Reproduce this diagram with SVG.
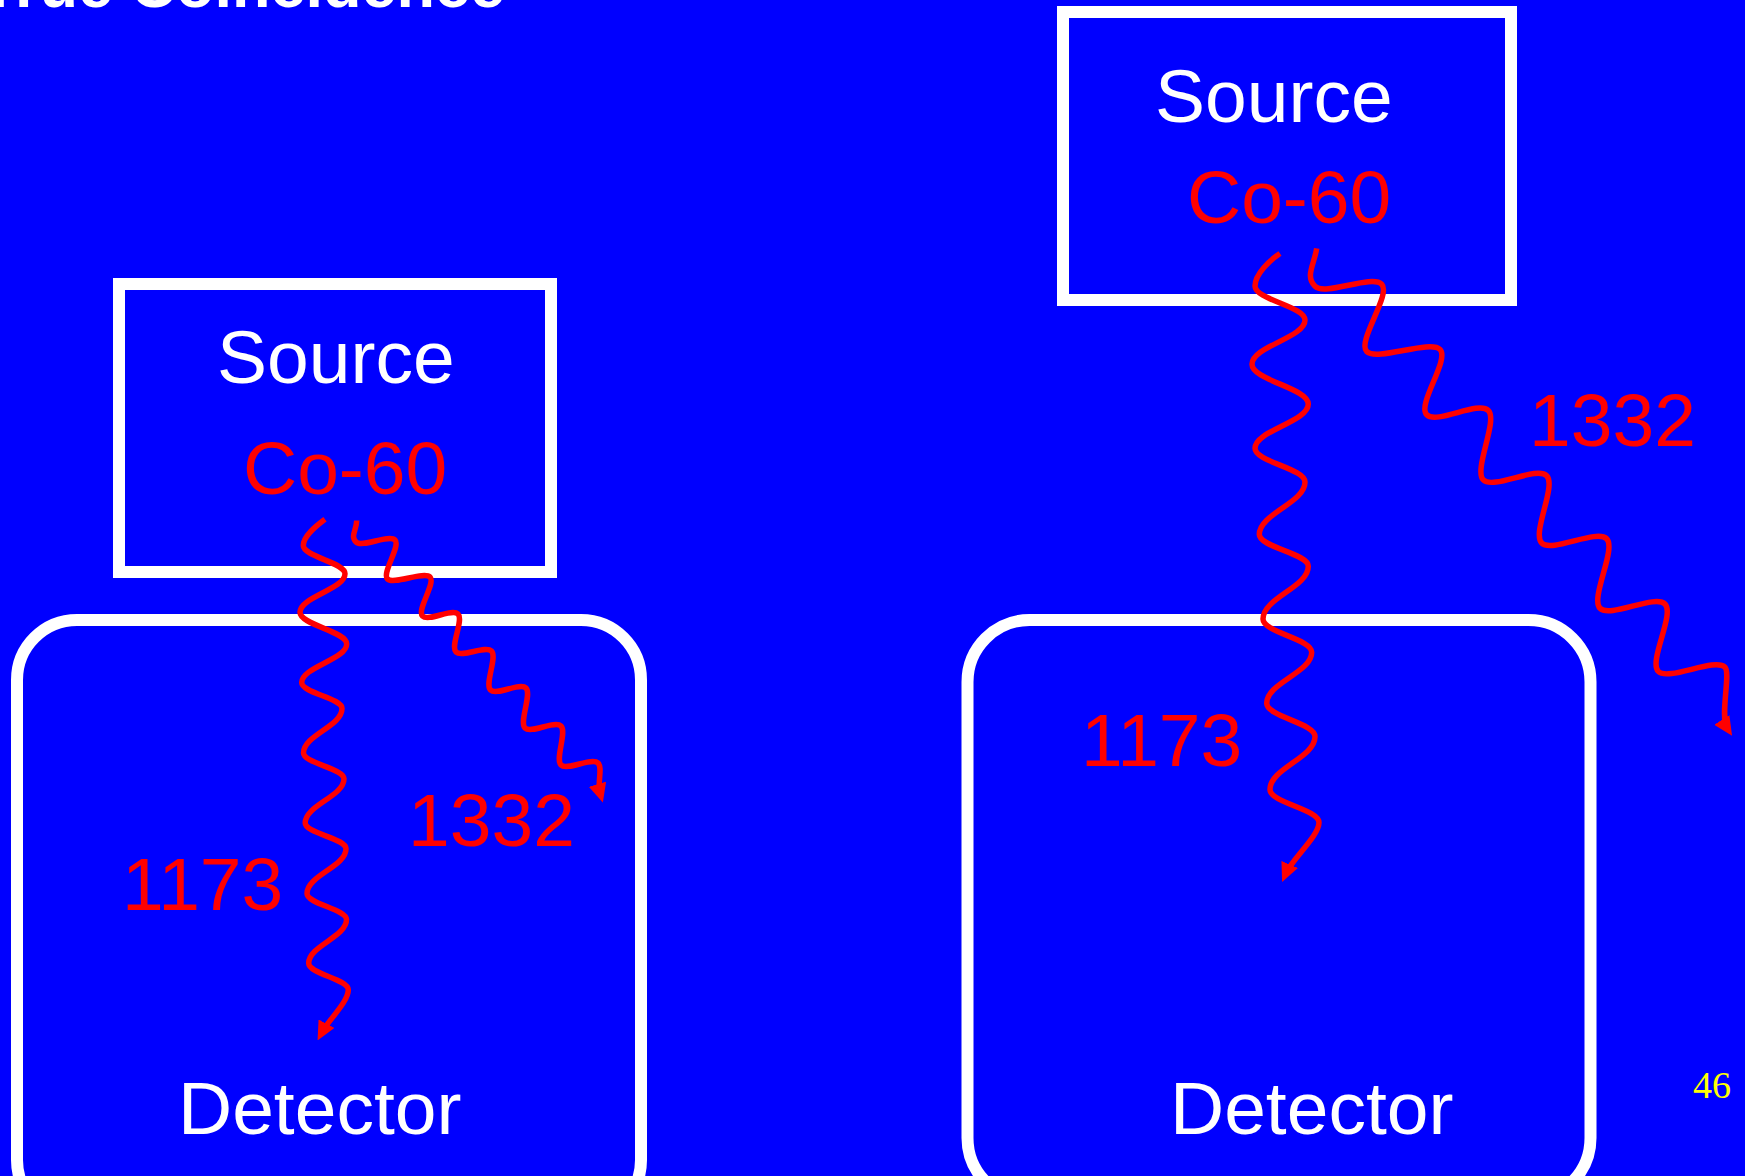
<svg xmlns="http://www.w3.org/2000/svg" width="1745" height="1176" viewBox="0 0 1745 1176">
<style>
.box{fill:none;stroke:#fff;stroke-width:12}
.lbl{font-family:"Liberation Sans",Arial,sans-serif;font-size:75px}
.w{fill:#fff}
.r{fill:#f00}
.wave{fill:none;stroke:#f00;stroke-width:5.5;stroke-linecap:butt;stroke-linejoin:round}
</style>
<defs>
<marker id="ah" viewBox="0 0 19 18" refX="10" refY="9" markerWidth="19" markerHeight="18" markerUnits="userSpaceOnUse" orient="auto">
<path d="M0,0 L19,9 L0,18 z" fill="#f00"/>
</marker>
</defs>
<rect x="0" y="0" width="1745" height="1176" fill="#0000ff"/>
<text x="-20" y="7" font-family="'Liberation Sans',Arial,sans-serif" font-size="63" font-weight="bold" fill="#fff">True Coincidence</text>

<g id="left-source">
<rect class="box" x="119" y="284" width="432" height="288"/>
<text class="lbl w" x="217" y="383">Source</text>
<text class="lbl r" x="243" y="494">Co-60</text>
</g>
<g id="left-detector">
<rect class="box" x="17" y="620" width="624" height="600" rx="60" ry="60"/>
<text class="lbl w" x="178" y="1134">Detector</text>
</g>
<g id="right-source">
<rect class="box" x="1063" y="12" width="448" height="288"/>
<text class="lbl w" x="1155" y="122">Source</text>
<text class="lbl r" x="1187" y="223">Co-60</text>
</g>
<g id="right-detector">
<rect class="box" x="967.5" y="620" width="623" height="580" rx="62" ry="62"/>
<text class="lbl w" x="1170" y="1134">Detector</text>
</g>

<g id="connectors">
<path class="wave" marker-end="url(#ah)" d="M325,519.3 C316,526 303.3,536 303.3,545.6 C303.3,556.8 345,562.5 345,573.7 C345,589.1 300,596.9 300,612.3 C300,624.9 346.7,631.3 346.7,643.9 C346.7,659.3 301.7,667.1 301.7,682.5 C301.7,692.9 342,698.1 342,708.5 C342,726.3 303.5,735.2 303.5,753 C303.5,763.3 344,768.4 344,778.7 C344,796.4 305.2,805.3 305.2,823 C305.2,833.3 346,838.4 346,848.7 C346,866.6 307,875.6 307,893.5 C307,903.9 346.5,909.2 346.5,919.6 C346.5,937 308.7,945.8 308.7,963.2 C308.7,973.8 348.3,979.1 348.3,989.7 C348.3,1002 328.4,1020.2 321.8,1032.5"/>
<path class="wave" marker-end="url(#ah)" d="M356.7,520.4 C356.7,530 350,536 356,542 C362,548 389,534 395,540 C401,546 381.5,573 387.5,579 C393.5,585 424,571 430,577 C436,583 416.5,610 422.5,616 C428.5,622 452,608 458,614 C464,620 450,646 456,652 C462,658 485.5,645 491.5,651 C497.5,657 484.5,684 490.5,690 C496.5,696 520,682 526,688 C532,694 519,722 525,728 C531,734 555,720 561,726 C567,732 555,759 561,765 C567,771 592,757 598,763 C603,768 596.9,782.3 600.3,793.8"/>
<path class="wave" marker-end="url(#ah)" d="M1280,253.5 C1270,260 1255,274 1255,286 C1255,299.6 1305,306.4 1305,320 C1305,337.7 1252,346.5 1252,364.2 C1252,380.2 1308.3,388.1 1308.3,404.1 C1308.3,421.8 1255,430.6 1255,448.3 C1255,461.8 1305,468.5 1305,482 C1305,503 1259.3,513.6 1259.3,534.6 C1259.3,547.2 1308.3,553.6 1308.3,566.2 C1308.3,587.3 1263,597.9 1263,619 C1263,632.3 1311.7,638.9 1311.7,652.2 C1311.7,672.6 1266.7,682.8 1266.7,703.2 C1266.7,716.6 1315,723.2 1315,736.6 C1315,757.8 1270,768.3 1270,789.5 C1270,802.7 1319,809.3 1319,822.5 C1319,836 1292.1,859 1285.7,873.7"/>
<path class="wave" marker-end="url(#ah)" d="M1316.7,248.4 C1314,265 1305,276.3 1315,286.3 C1325,296.3 1371.7,274.2 1381.7,284.2 C1391.7,294.2 1356.7,341.5 1366.7,351.5 C1376.7,361.5 1430,339.4 1440,349.4 C1450,359.4 1416.7,404.7 1426.7,414.7 C1436.7,424.7 1478.3,400.5 1488.3,410.5 C1498.3,420.5 1473.3,469.9 1483.3,479.9 C1493.3,489.9 1536.7,465.7 1546.7,475.7 C1556.7,485.7 1531.7,533 1541.7,543 C1551.7,553 1596.7,528.8 1606.7,538.8 C1616.7,548.8 1590,598.3 1600,608.3 C1610,618.3 1655,594 1665,604 C1675,614 1648.3,661.4 1658.3,671.4 C1668.3,681.4 1715,657.2 1725,667.2 C1731,673 1719.6,716.5 1727.2,728.3"/>
<text class="lbl r" x="122" y="910">1173</text>
<text class="lbl r" x="408" y="846">1332</text>
<text class="lbl r" x="1081" y="766">1173</text>
<text class="lbl r" x="1529" y="446">1332</text>
</g>
<text x="1693" y="1098" font-family="'Liberation Serif','Times New Roman',serif" font-size="38" fill="#ff0">46</text>
</svg>
